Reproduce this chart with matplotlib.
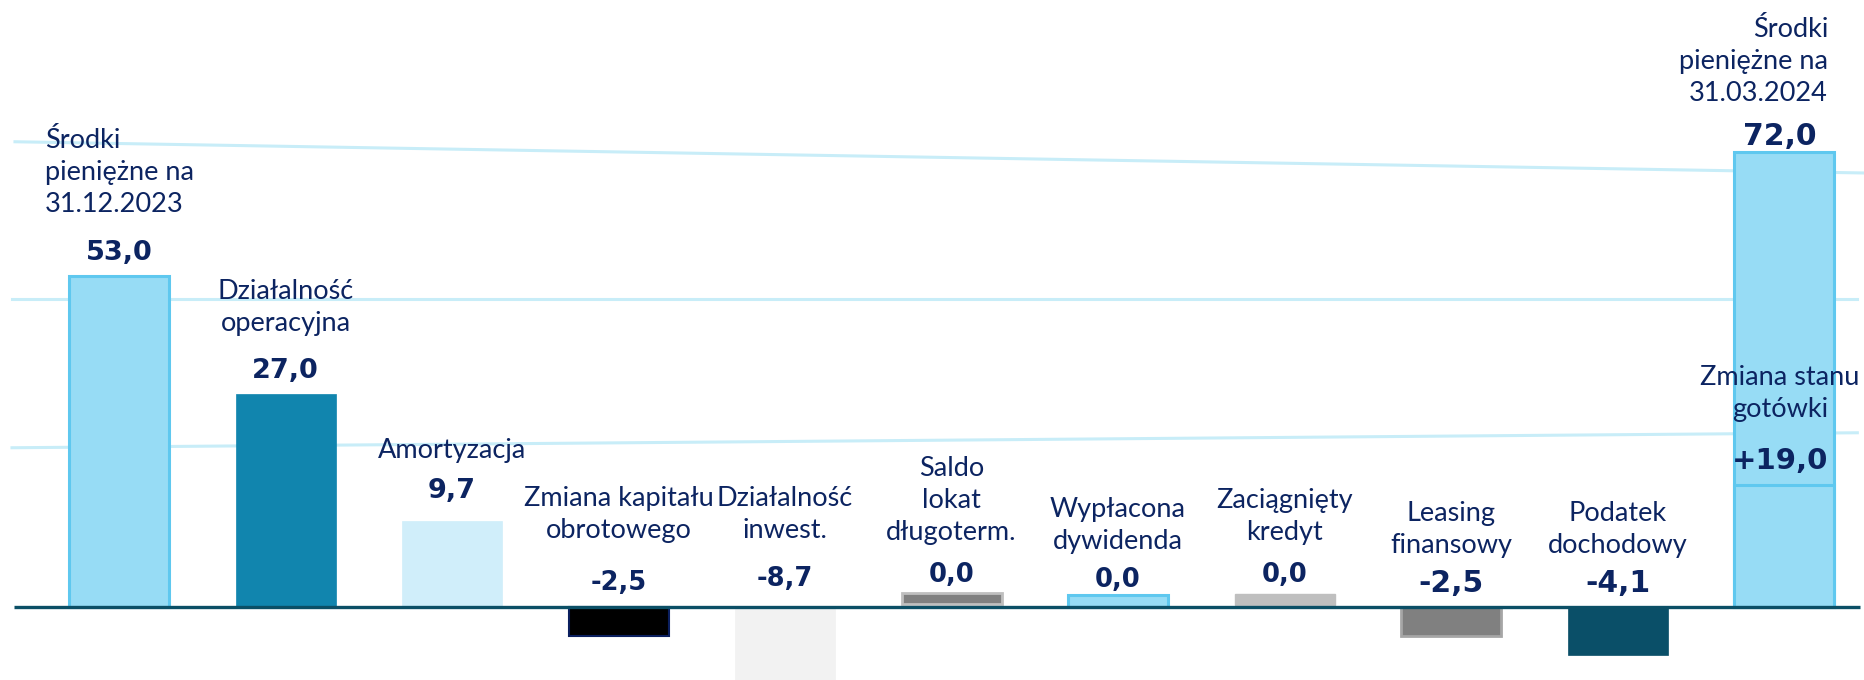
import numpy as np
import matplotlib
matplotlib.use('Agg')
import matplotlib.pyplot as plt

# categories (label lines) and the printed values
categories = ['Środki\npieniężne na\n31.12.2023', 'Działalność\noperacyjna', 'Amortyzacja',
              'Zmiana kapitału\nobrotowego', 'Działalność\ninwest.', 'Saldo\nlokat\ndługoterm.',
              'Wypłacona\ndywidenda', 'Zaciągnięty\nkredyt', 'Leasing\nfinansowy',
              'Podatek\ndochodowy', 'Środki\npieniężne na\n31.03.2024']
values = [53.0, 27.0, 9.7, -2.5, -8.7, 0.0, 0.0, 0.0, -2.5, -4.1, 72.0]
value_text = ['53,0', '27,0', '9,7', '-2,5', '-8,7', '0,0', '0,0', '0,0', '-2,5', '-4,1', '72,0']

# bar sizes as they are drawn in the picture (the original is not to scale)
drawn_height = [53.0, 34.1, 13.8, -4.6, -14.0, 1.8, 1.9, 1.8, -4.6, -7.7, 72.9]
drawn_bottom = [0, 0, 0, 0, -0.4, 0.5, 0.0, 0.3, 0, 0, 0]

change_label = 'Zmiana stanu\ngotówki'
change_text = '+19,0'
change_drawn = 19.5

# look
fills = ['#97dcf5', '#1185ae', '#d0eefa', '#000000', '#f2f2f2', '#808080',
         '#97dcf5', '#bfbfbf', '#808080', '#0a4f68', '#97dcf5']
edges = ['#5fc8ef', '#1185ae', '#d0eefa', '#0b1f5e', '#f2f2f2', '#bfbfbf',
         '#5fc8ef', '#bfbfbf', '#a6a6a6', '#0a4f68', '#5fc8ef']
edge_w = [2.2, 0.5, 0.5, 1.5, 0.5, 2.0, 2.2, 1.0, 2.0, 0.5, 2.2]
navy = '#0c2461'
grid_col = '#c8edf8'

# label placement (data units) and value font sizes
val_y = [56.7, 37.8, 18.6, 3.8, 4.5, 5.1, 4.3, 5.1, 3.8, 3.8, 75.4]
cat_y = [69.5, 47.9, 25.0, 14.8, 14.8, 17.0, 13.1, 14.5, 12.4, 12.4, 87.3]
val_size = [19.5, 19.5, 19.5, 18.5, 18.5, 18.5, 18.5, 18.5, 21.5, 21.5, 21.5]
last_label_x = 9.976

fig = plt.figure(figsize=(18.64, 6.8), dpi=100)
ax = fig.add_axes([0, 0, 1, 1])
ax.set_xlim(-0.715, 10.48)
ax.set_ylim(-11.69, 97.2)
ax.set_axis_off()

# faint guide lines behind the bars
ax.plot([-0.625, 10.48], [74.5, 69.5], color=grid_col, lw=2.2, zorder=0)
ax.plot([-0.643, 10.44], [49.3, 49.3], color=grid_col, lw=2.2, zorder=0)
ax.plot([-0.643, 10.44], [25.5, 27.9], color=grid_col, lw=2.2, zorder=0)

x = np.arange(len(categories))
ax.bar(x, drawn_height, width=0.6, bottom=drawn_bottom, color=fills,
       edgecolor=edges, linewidth=edge_w, zorder=2)
# split of the last bar: change of cash sits in its lower part
ax.bar(x[-1], change_drawn, width=0.6, color=fills[-1], edgecolor=edges[-1],
       linewidth=2.2, zorder=3)

ax.plot([-0.631, 10.457], [0, 0], color='#0b4f66', lw=2.4, zorder=4,
        solid_capstyle='butt')

cat_font = dict(family='Lato', fontsize=19.5, color=navy, linespacing=1.35)
val_font = dict(family='DejaVu Sans', fontweight='bold', color=navy)

for i in range(len(categories)):
    vx = last_label_x if i == len(categories) - 1 else x[i]
    ax.text(vx, val_y[i], value_text[i], ha='center', va='center', zorder=5,
            fontsize=val_size[i], **val_font)
    if i == 0:
        ax.text(-0.444, cat_y[i], categories[i], ha='left', va='center',
                multialignment='left', zorder=5, **cat_font)
    elif i == len(categories) - 1:
        ax.text(10.264, cat_y[i], categories[i], ha='right', va='center',
                multialignment='right', zorder=5, **cat_font)
    else:
        ax.text(x[i], cat_y[i], categories[i], ha='center', va='center',
                multialignment='center', zorder=5, **cat_font)

ax.text(last_label_x, 34.2, change_label, ha='center', va='center', zorder=5, **cat_font)
ax.text(last_label_x, 23.4, change_text, ha='center', va='center', zorder=5,
        fontsize=21, **val_font)

fig.savefig('out.png', dpi=100)
